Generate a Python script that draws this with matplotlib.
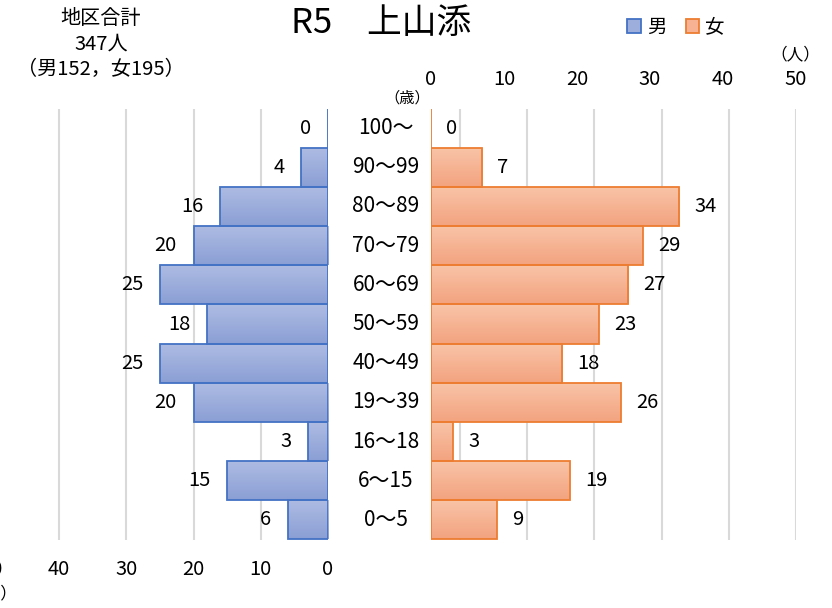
import numpy as np
import matplotlib
matplotlib.use('Agg')
import matplotlib.pyplot as plt
from matplotlib.patches import Patch
from matplotlib.colors import LinearSegmentedColormap
from matplotlib.transforms import blended_transform_factory

plt.rcParams['font.family'] = ['Noto Sans CJK JP', 'DejaVu Sans']

ages = ['100～', '90～99', '80～89', '70～79', '60～69', '50～59',
        '40～49', '19～39', '16～18', '6～15', '0～5']
male = [0, 4, 16, 20, 25, 18, 25, 20, 3, 15, 6]
female = [0, 7, 34, 29, 27, 23, 18, 26, 3, 19, 9]
ticks = [0, 10, 20, 30, 40, 50]

W, H = 832, 608
fig = plt.figure(figsize=(W / 100, H / 100), dpi=100)


def box(x0, x1, y0, y1):
    # pixel box -> figure fraction
    return [x0 / W, 1 - y1 / H, (x1 - x0) / W, (y1 - y0) / H]


ax_l = fig.add_axes(box(-8, 328, 108.5, 539.5))
ax_r = fig.add_axes(box(431, 796, 108.5, 539.5))

grid_c = '#D9D9D9'
male_edge, male_top, male_bot = '#4472C4', '#AEBCE3', '#8B9FD5'
fem_edge, fem_top, fem_bot = '#ED7D31', '#F9C4A8', '#F3A37F'
fs = 14.5

y = np.arange(len(ages))


def draw_bars(ax, vals, edge, top, bot):
    cmap = LinearSegmentedColormap.from_list('g', [top, bot])
    grad = np.linspace(1, 0, 64).reshape(-1, 1)
    bars = ax.barh(y, vals, height=1.0, facecolor='none', edgecolor=edge,
                   linewidth=1.3, zorder=3)
    for b, v in zip(bars, vals):
        if v == 0:
            continue
        yc = b.get_y() + b.get_height() / 2
        im = ax.imshow(grad, cmap=cmap, aspect='auto', origin='lower',
                       extent=(0, v, yc + 0.5, yc - 0.5), zorder=2)
        im.set_clip_path(b)
    return bars


draw_bars(ax_l, male, male_edge, male_top, male_bot)
draw_bars(ax_r, female, fem_edge, fem_top, fem_bot)

for ax in (ax_l, ax_r):
    ax.set_ylim(len(ages) - 0.5, -0.5)
    ax.set_yticks([])
    for s in ax.spines.values():
        s.set_visible(False)
    ax.tick_params(length=0, labelsize=fs)
    ax.set_xticks(ticks)

ax_l.set_xlim(50, 0)
ax_r.set_xlim(0, 50)
ax_l.tick_params(axis='x', pad=14)
ax_r.xaxis.tick_top()
ax_r.tick_params(axis='x', pad=13)

# gridlines
for t in [0, 10, 20, 30, 40]:
    ax_l.axvline(t, color=grid_c, lw=1.5, zorder=0)
# the right-hand gridlines follow the left panel's spacing
step = 10 * (336 / 50) / (365 / 50)
for g in np.arange(50, 0, -step):
    ax_r.axvline(g, color=grid_c, lw=1.5, zorder=0)

# value labels
for yi, v in zip(y, male):
    ax_l.annotate(str(v), (v, yi), xytext=(-12, 0), textcoords='offset points',
                  ha='right', va='center', fontsize=fs)
for yi, v in zip(y, female):
    ax_r.annotate(str(v), (v, yi), xytext=(11, 0), textcoords='offset points',
                  ha='left', va='center', fontsize=fs)

# age labels
tr = blended_transform_factory(fig.transFigure, ax_r.transData)
for yi, a in zip(y, ages):
    ax_r.text(386 / W, yi, a, transform=tr, ha='center', va='center',
              fontsize=15)

# texts
fig.text(101 / W, 1 - 44 / H, '地区合計\n347人\n（男152，女195）',
         ha='center', va='center', fontsize=14.5, linespacing=1.3)
fig.text(381 / W, 1 - 23 / H, 'R5　上山添', ha='center', va='center',
         fontsize=25)
fig.text(407 / W, 1 - 98 / H, '（歳）', ha='center', va='center', fontsize=11)
fig.text(795 / W, 1 - 55 / H, '（人）', ha='center', va='center', fontsize=12)
fig.text(17 / W, 1 - 594 / H, '（人）', ha='right', va='center', fontsize=12)

handles = [Patch(facecolor='#9DAEDD', edgecolor=male_edge, lw=1.3, label='男'),
           Patch(facecolor='#F6B293', edgecolor=fem_edge, lw=1.3, label='女')]
fig.legend(handles=handles, loc='center', bbox_to_anchor=(676 / W, 1 - 27 / H),
           ncol=2, frameon=False, fontsize=14, handlelength=0.7,
           handleheight=0.7, handletextpad=0.3, columnspacing=1.0)

fig.savefig('out.png', dpi=100)
